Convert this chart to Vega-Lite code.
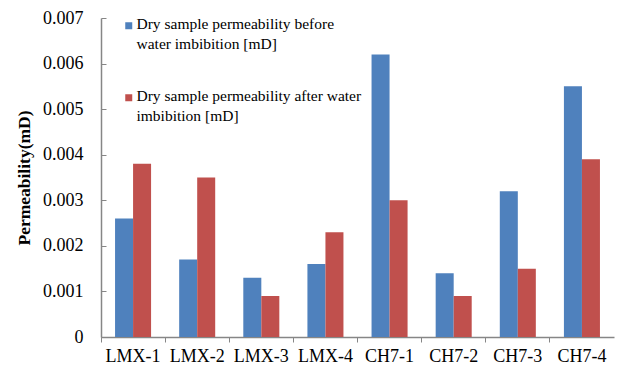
{
  "$schema": "https://vega.github.io/schema/vega-lite/v6.json",
  "width": 513,
  "height": 319,
  "autosize": {"type": "none"},
  "padding": {"left": 101, "top": 18, "right": 11, "bottom": 33},
  "background": "white",
  "config": {
    "font": "Liberation Serif",
    "view": {"stroke": null},
    "axis": {"domainColor": "#868686", "tickColor": "#868686", "labelColor": "black", "titleColor": "black", "labelFont": "Liberation Serif", "titleFont": "Liberation Serif"},
    "legend": {"labelFont": "Liberation Serif"}
  },
  "data": {
    "values": [
      {"sample": "LMX-1", "series": "Dry sample permeability before water imbibition [mD]", "value": 0.0026},
      {"sample": "LMX-1", "series": "Dry sample permeability after water imbibition [mD]", "value": 0.0038},
      {"sample": "LMX-2", "series": "Dry sample permeability before water imbibition [mD]", "value": 0.0017},
      {"sample": "LMX-2", "series": "Dry sample permeability after water imbibition [mD]", "value": 0.0035},
      {"sample": "LMX-3", "series": "Dry sample permeability before water imbibition [mD]", "value": 0.0013},
      {"sample": "LMX-3", "series": "Dry sample permeability after water imbibition [mD]", "value": 0.0009},
      {"sample": "LMX-4", "series": "Dry sample permeability before water imbibition [mD]", "value": 0.0016},
      {"sample": "LMX-4", "series": "Dry sample permeability after water imbibition [mD]", "value": 0.0023},
      {"sample": "CH7-1", "series": "Dry sample permeability before water imbibition [mD]", "value": 0.0062},
      {"sample": "CH7-1", "series": "Dry sample permeability after water imbibition [mD]", "value": 0.003},
      {"sample": "CH7-2", "series": "Dry sample permeability before water imbibition [mD]", "value": 0.0014},
      {"sample": "CH7-2", "series": "Dry sample permeability after water imbibition [mD]", "value": 0.0009},
      {"sample": "CH7-3", "series": "Dry sample permeability before water imbibition [mD]", "value": 0.0032},
      {"sample": "CH7-3", "series": "Dry sample permeability after water imbibition [mD]", "value": 0.0015},
      {"sample": "CH7-4", "series": "Dry sample permeability before water imbibition [mD]", "value": 0.0055},
      {"sample": "CH7-4", "series": "Dry sample permeability after water imbibition [mD]", "value": 0.0039}
    ]
  },
  "mark": {"type": "bar"},
  "encoding": {
    "x": {
      "field": "sample",
      "type": "nominal",
      "sort": null,
      "scale": {"paddingInner": 0, "paddingOuter": 0},
      "axis": {"title": null, "labelAngle": 0, "labelFontSize": 18, "labelPadding": 5, "tickSize": 5, "bandPosition": 0, "domainWidth": 1.5}
    },
    "xOffset": {
      "field": "series",
      "type": "nominal",
      "sort": ["Dry sample permeability before water imbibition [mD]", "Dry sample permeability after water imbibition [mD]"],
      "scale": {"paddingInner": 0, "paddingOuter": 0.78}
    },
    "y": {
      "field": "value",
      "type": "quantitative",
      "scale": {"domain": [0, 0.007], "nice": false},
      "axis": {
        "title": "Permeability(mD)",
        "titleFontSize": 17.5,
        "titleFontWeight": "bold",
        "titlePadding": 9,
        "values": [0, 0.001, 0.002, 0.003, 0.004, 0.005, 0.006, 0.007],
        "labelExpr": "datum.value == 0 ? '0' : format(datum.value, '.3f')",
        "labelFontSize": 18,
        "tickSize": -5,
        "labelPadding": 23,
        "grid": false,
        "domainWidth": 1.5
      }
    },
    "color": {
      "field": "series",
      "type": "nominal",
      "sort": ["Dry sample permeability before water imbibition [mD]", "Dry sample permeability after water imbibition [mD]"],
      "scale": {"range": ["#4F81BD", "#C0504D"]},
      "legend": {
        "title": null,
        "orient": "none",
        "legendX": 20,
        "legendY": 0,
        "padding": 0,
        "symbolType": "square",
        "symbolSize": 49,
        "symbolStrokeWidth": 0,
        "labelFont": "Liberation Serif",
        "labelFontSize": 15.5,
        "labelColor": "black",
        "labelLimit": 0,
        "labelOffset": 0,
        "labelBaseline": "top",
        "rowPadding": 35,
        "labelExpr": "datum.label == 'Dry sample permeability before water imbibition [mD]' ? ['Dry sample permeability before', 'water imbibition [mD]'] : ['Dry sample permeability after water', 'imbibition [mD]']",
        "encode": {"labels": {"update": {"dy": {"value": -9}, "lineHeight": {"value": 20}, "font": {"value": "Liberation Serif"}, "fontSize": {"value": 15.5}}}}
      }
    }
  }
}
